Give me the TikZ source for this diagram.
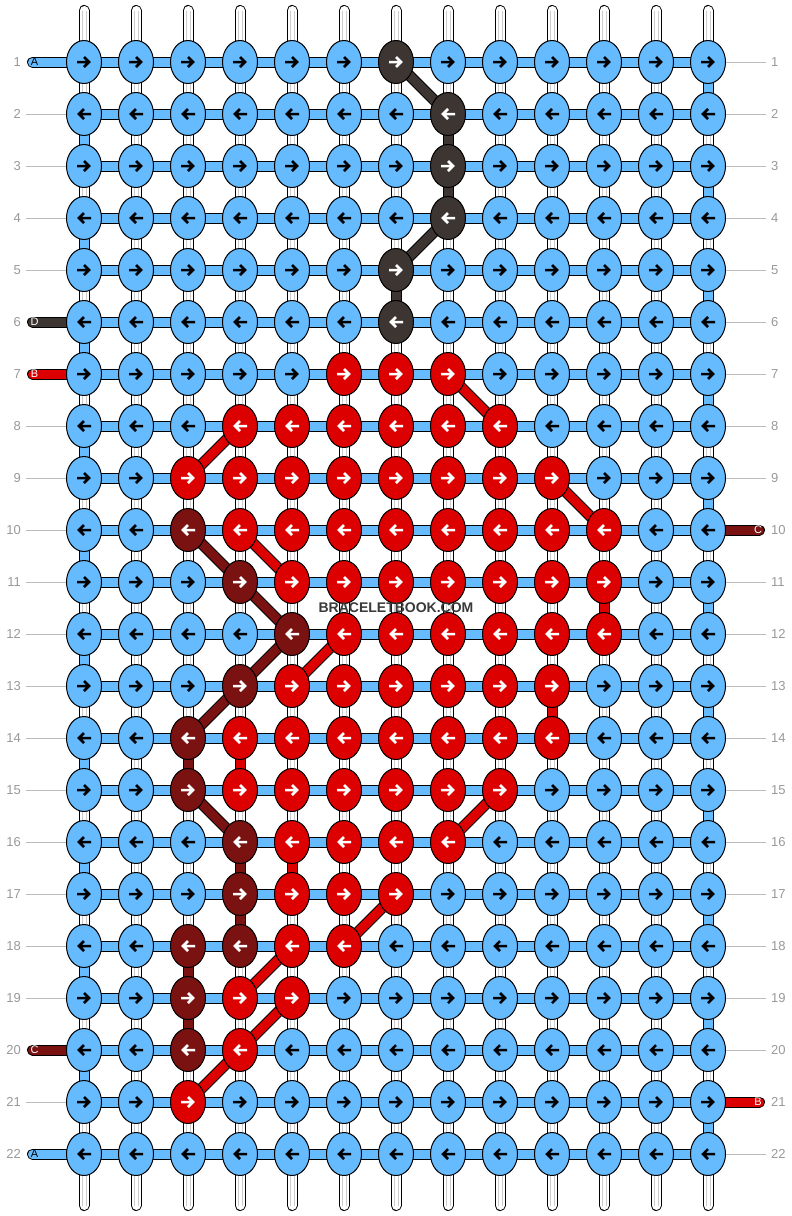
\documentclass[tikz,border=0pt]{standalone}
\usepackage{fontspec}
\setmainfont{Liberation Sans}
\usetikzlibrary{shapes.geometric}
\definecolor{bl}{HTML}{66BBFF}
\definecolor{dk}{HTML}{3D3532}
\definecolor{rd}{HTML}{DD0000}
\definecolor{dr}{HTML}{7A1212}
\colorlet{arbl}{black}
\colorlet{ardk}{white}
\colorlet{arrd}{white}
\colorlet{ardr}{white}
\definecolor{numgray}{HTML}{999999}
\definecolor{linegray}{HTML}{BBBBBB}
\definecolor{innergray}{HTML}{CCCCCC}
\definecolor{wmark}{HTML}{3A3A3A}
\pgfdeclarelayer{strands}
\pgfdeclarelayer{links}
\pgfsetlayers{strands,links,main}
\tikzset{
  knot/.style={ellipse, draw=black, line width=1pt, minimum width=35pt, minimum height=43pt, inner sep=0pt},
  band/.style={draw=black, line width=1pt, double=#1, double distance=9pt, line cap=butt},
  strand/.style={draw=black, line width=1pt, double=white, double distance=9pt, line cap=round},
  innerline/.style={draw=innergray, line width=0.7pt},
  rowline/.style={draw=linegray, line width=1pt},
  knotarrow/.style={line width=2.5pt, line cap=butt, line join=miter},
  rownum/.style={font=\fontsize{13}{13}\selectfont, text=numgray, inner sep=0pt},
  tag/.style={font=\fontsize{11}{11}\selectfont, inner sep=0pt},
}
\begin{document}
\begin{tikzpicture}[x=1pt,y=-1pt]
\useasboundingbox (0,0) rectangle (792,1216);

% colour table of the knots
\foreach \ri/\cfrom/\cto/\kk in {7/6/8/rd, 8/4/9/rd, 9/3/10/rd, 10/4/11/rd, 11/5/11/rd, 12/6/11/rd, 13/5/10/rd, 14/4/10/rd, 15/4/9/rd, 16/5/8/rd, 17/5/7/rd, 18/5/6/rd, 19/4/5/rd, 20/4/4/rd, 21/3/3/rd, 1/7/7/dk, 2/8/8/dk, 3/8/8/dk, 4/8/8/dk, 5/7/7/dk, 6/7/7/dk, 10/3/3/dr, 11/4/4/dr, 12/5/5/dr, 13/4/4/dr, 14/3/3/dr, 15/3/3/dr, 16/4/4/dr, 17/4/4/dr, 18/3/4/dr, 19/3/3/dr, 20/3/3/dr}{%
  \foreach \ci in {\cfrom,...,\cto}{\expandafter\xdef\csname kc@\ri @\ci\endcsname{\kk}}%
}

% knots
\foreach \ri in {1,...,22}{
  \foreach \ci in {1,...,13}{
    \ifcsname kc@\ri @\ci\endcsname
      \edef\kcol{\csname kc@\ri @\ci\endcsname}%
    \else
      \def\kcol{bl}%
    \fi
    \pgfmathsetmacro\X{84+52*(\ci-1)}
    \pgfmathsetmacro\Y{62+52*(\ri-1)}
    \pgfmathsetmacro\dir{ifthenelse(isodd(\ri),1,-1)}
    \node[knot, fill=\kcol] (k-\ri-\ci) at (\X,\Y) {};
    \draw[knotarrow, draw=ar\kcol, shift={(\X,\Y)}, xscale=\dir] (-7,0) -- (4.5,0) (0,-5) -- (5,0) -- (0,5);
  }
}

% row numbers
\foreach \ri in {1,...,22}{
  \pgfmathsetmacro\Y{62+52*(\ri-1)}
  \node[rownum, anchor=east] (nl-\ri) at (21,\Y) {\ri};
  \node[rownum, anchor=west] (nr-\ri) at (771,\Y) {\ri};
}

% string end labels
\foreach \ri/\lab/\tc in {1/A/black, 6/D/white, 7/B/white, 20/C/white, 22/A/black}{
  \pgfmathsetmacro\Y{62+52*(\ri-1)}
  \coordinate (sl-\ri) at (32.5,\Y);
  \node[tag, text=\tc] (tl-\ri) at (34.5,\Y) {\lab};
}
\foreach \ri/\lab in {10/C, 21/B}{
  \pgfmathsetmacro\Y{62+52*(\ri-1)}
  \coordinate (sr-\ri) at (759.5,\Y);
  \node[tag, text=white] (tr-\ri) at (758,\Y) {\lab};
}

\node[font=\bfseries\fontsize{14}{14}\selectfont, text=wmark, inner sep=0pt] (wm) at (396,607.5) {BRACELETBOOK.COM};

% ---------- lowest layer: background, base strands, row lines
\begin{pgfonlayer}{strands}
  \fill[white] (0,0) rectangle (792,1216);
  \foreach \ci in {1,...,13}{
    \pgfmathsetmacro\X{84+52*(\ci-1)}
    \coordinate (top-\ci) at (\X,10.5);
    \coordinate (bot-\ci) at (\X,1205.5);
    \draw[strand] (top-\ci) -- (bot-\ci);
    \draw[innerline] ([xshift=-2pt]top-\ci) -- ([xshift=-2pt]bot-\ci);
    \draw[innerline] ([xshift=2pt]top-\ci) -- ([xshift=2pt]bot-\ci);
  }
  \foreach \ri in {2,3,4,5,8,9,10,11,12,13,14,15,16,17,18,19,21}{
    \pgfmathsetmacro\Y{62+52*(\ri-1)}
    \coordinate (gl-\ri) at (26,\Y);
    \draw[rowline] (gl-\ri) -- (k-\ri-1.center);
  }
  \foreach \ri in {1,2,3,4,5,6,7,8,9,11,12,13,14,15,16,17,18,19,20,22}{
    \pgfmathsetmacro\Y{62+52*(\ri-1)}
    \coordinate (gr-\ri) at (766,\Y);
    \draw[rowline] (k-\ri-13.center) -- (gr-\ri);
  }
\end{pgfonlayer}

% ---------- connectors between knots
\begin{pgfonlayer}{links}
  \foreach \ri in {1,...,22}{
    \draw[band=bl] (k-\ri-1.center) -- (k-\ri-13.center);
  }
  \foreach \ri in {2,4,...,20}{
    \pgfmathtruncatemacro\si{\ri+1}
    \draw[band=bl] (k-\ri-1.center) -- (k-\si-1.center);
  }
  \foreach \ri in {1,3,...,21}{
    \pgfmathtruncatemacro\si{\ri+1}
    \draw[band=bl] (k-\ri-13.center) -- (k-\si-13.center);
  }
  % coloured vertical links
  \foreach \ri/\ci/\kk in {2/8/dk, 3/8/dk, 5/7/dk, 11/11/rd, 13/10/rd, 14/4/rd, 16/5/rd, 14/3/dr, 16/4/dr, 17/4/dr, 18/3/dr, 19/3/dr}{
    \pgfmathtruncatemacro\si{\ri+1}
    \draw[band=\kk] (k-\ri-\ci.center) -- (k-\si-\ci.center);
  }
  % diagonal links
  \foreach \ri/\ci/\cj/\kk in {1/7/8/dk, 4/8/7/dk, 7/8/9/rd, 8/4/3/rd, 9/10/11/rd, 10/4/5/rd, 12/6/5/rd, 15/9/8/rd, 17/7/6/rd, 18/5/4/rd, 19/5/4/rd, 20/4/3/rd, 10/3/4/dr, 11/4/5/dr, 12/5/4/dr, 13/4/3/dr, 15/3/4/dr}{
    \pgfmathtruncatemacro\si{\ri+1}
    \draw[band=\kk] (k-\ri-\ci.center) -- (k-\si-\cj.center);
  }
  % string ends
  \foreach \ri/\kk in {1/bl, 6/dk, 7/rd, 20/dr, 22/bl}{
    \draw[band=\kk, line cap=round] (sl-\ri) -- (k-\ri-1.center);
  }
  \foreach \ri/\kk in {10/dr, 21/rd}{
    \draw[band=\kk, line cap=round] (k-\ri-13.center) -- (sr-\ri);
  }
\end{pgfonlayer}
\end{tikzpicture}
\end{document}
